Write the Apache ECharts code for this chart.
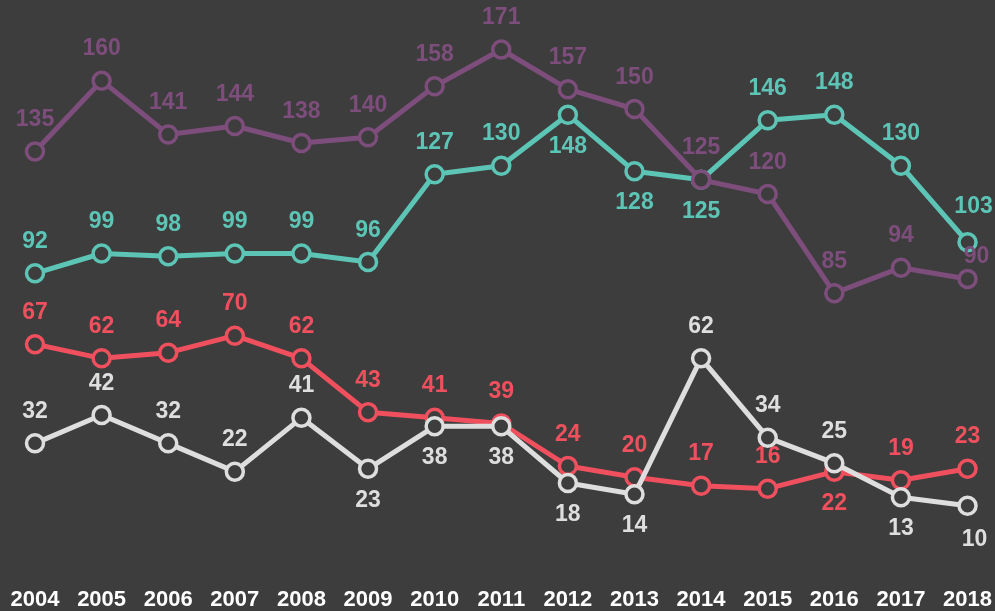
<!DOCTYPE html>
<html>
<head>
<meta charset="utf-8">
<script src="https://cdn.jsdelivr.net/npm/echarts@6/dist/echarts.min.js"></script>
<style>
  html, body { margin: 0; padding: 0; background: #3d3d3d; }
  #chart { width: 995px; height: 611px; }
</style>
</head>
<body>
<div id="chart"></div>
<script>
// years on the x axis
const years = ['2004', '2005', '2006', '2007', '2008', '2009', '2010', '2011',
  '2012', '2013', '2014', '2015', '2016', '2017', '2018'];

// series values
const purpleValues = [135, 160, 141, 144, 138, 140, 158, 171, 157, 150, 125, 120, 85, 94, 90];
const tealValues = [92, 99, 98, 99, 99, 96, 127, 130, 148, 128, 125, 146, 148, 130, 103];
const redValues = [67, 62, 64, 70, 62, 43, 41, 39, 24, 20, 17, 16, 22, 19, 23];
const whiteValues = [32, 42, 32, 22, 41, 23, 38, 38, 18, 14, 62, 34, 25, 13, 10];

const BG = '#3d3d3d';
const FONT = "'Liberation Sans', Arial, sans-serif";

// points whose label sits under the marker
const labelsBelow = {
  purple: [],
  teal: [8, 9, 10],
  red: [12],
  white: [5, 6, 7, 8, 9, 13, 14]
};
// small nudges for crowded labels at the right edge (index -> [dx, dy])
const labelNudge = {
  purple: { 14: [9, 9] },
  teal: { 14: [6, -4] },
  red: {},
  white: { 14: [7, 2] }
};

function makeSeries(name, values, color, z) {
  const below = labelsBelow[name];
  const nudge = labelNudge[name];
  return {
    name: name,
    type: 'line',
    z: z,
    data: values.map((v, i) => {
      const lab = { position: below.includes(i) ? 'bottom' : 'top' };
      if (nudge[i]) lab.offset = nudge[i];
      return { value: v, label: lab };
    }),
    symbol: 'circle',
    symbolSize: 17,
    showAllSymbol: true,
    lineStyle: { color: color, width: 5 },
    itemStyle: { color: BG, borderColor: color, borderWidth: 3.5 },
    label: {
      show: true,
      color: color,
      fontFamily: FONT,
      fontWeight: 'bold',
      fontSize: 23,
      distance: 10
    },
    emphasis: { disabled: true }
  };
}

const chart = echarts.init(document.getElementById('chart'), null, { renderer: 'canvas' });

chart.setOption({
  backgroundColor: BG,
  animation: false,
  grid: { left: 35, right: 19, top: 24, bottom: 76, containLabel: false },
  xAxis: {
    type: 'category',
    data: years,
    boundaryGap: false,
    axisLine: { show: false },
    axisTick: { show: false },
    splitLine: { show: false },
    axisLabel: {
      color: '#ffffff',
      fontFamily: FONT,
      fontWeight: 'bold',
      fontSize: 22,
      margin: 55,
      interval: 0
    }
  },
  yAxis: {
    type: 'value',
    min: 0,
    max: 180,
    show: false
  },
  series: [
    makeSeries('teal', tealValues, '#5cc5b5', 2),
    makeSeries('purple', purpleValues, '#7d4d7b', 3),
    makeSeries('red', redValues, '#f0505e', 4),
    makeSeries('white', whiteValues, '#dedede', 5)
  ]
});
</script>
</body>
</html>
